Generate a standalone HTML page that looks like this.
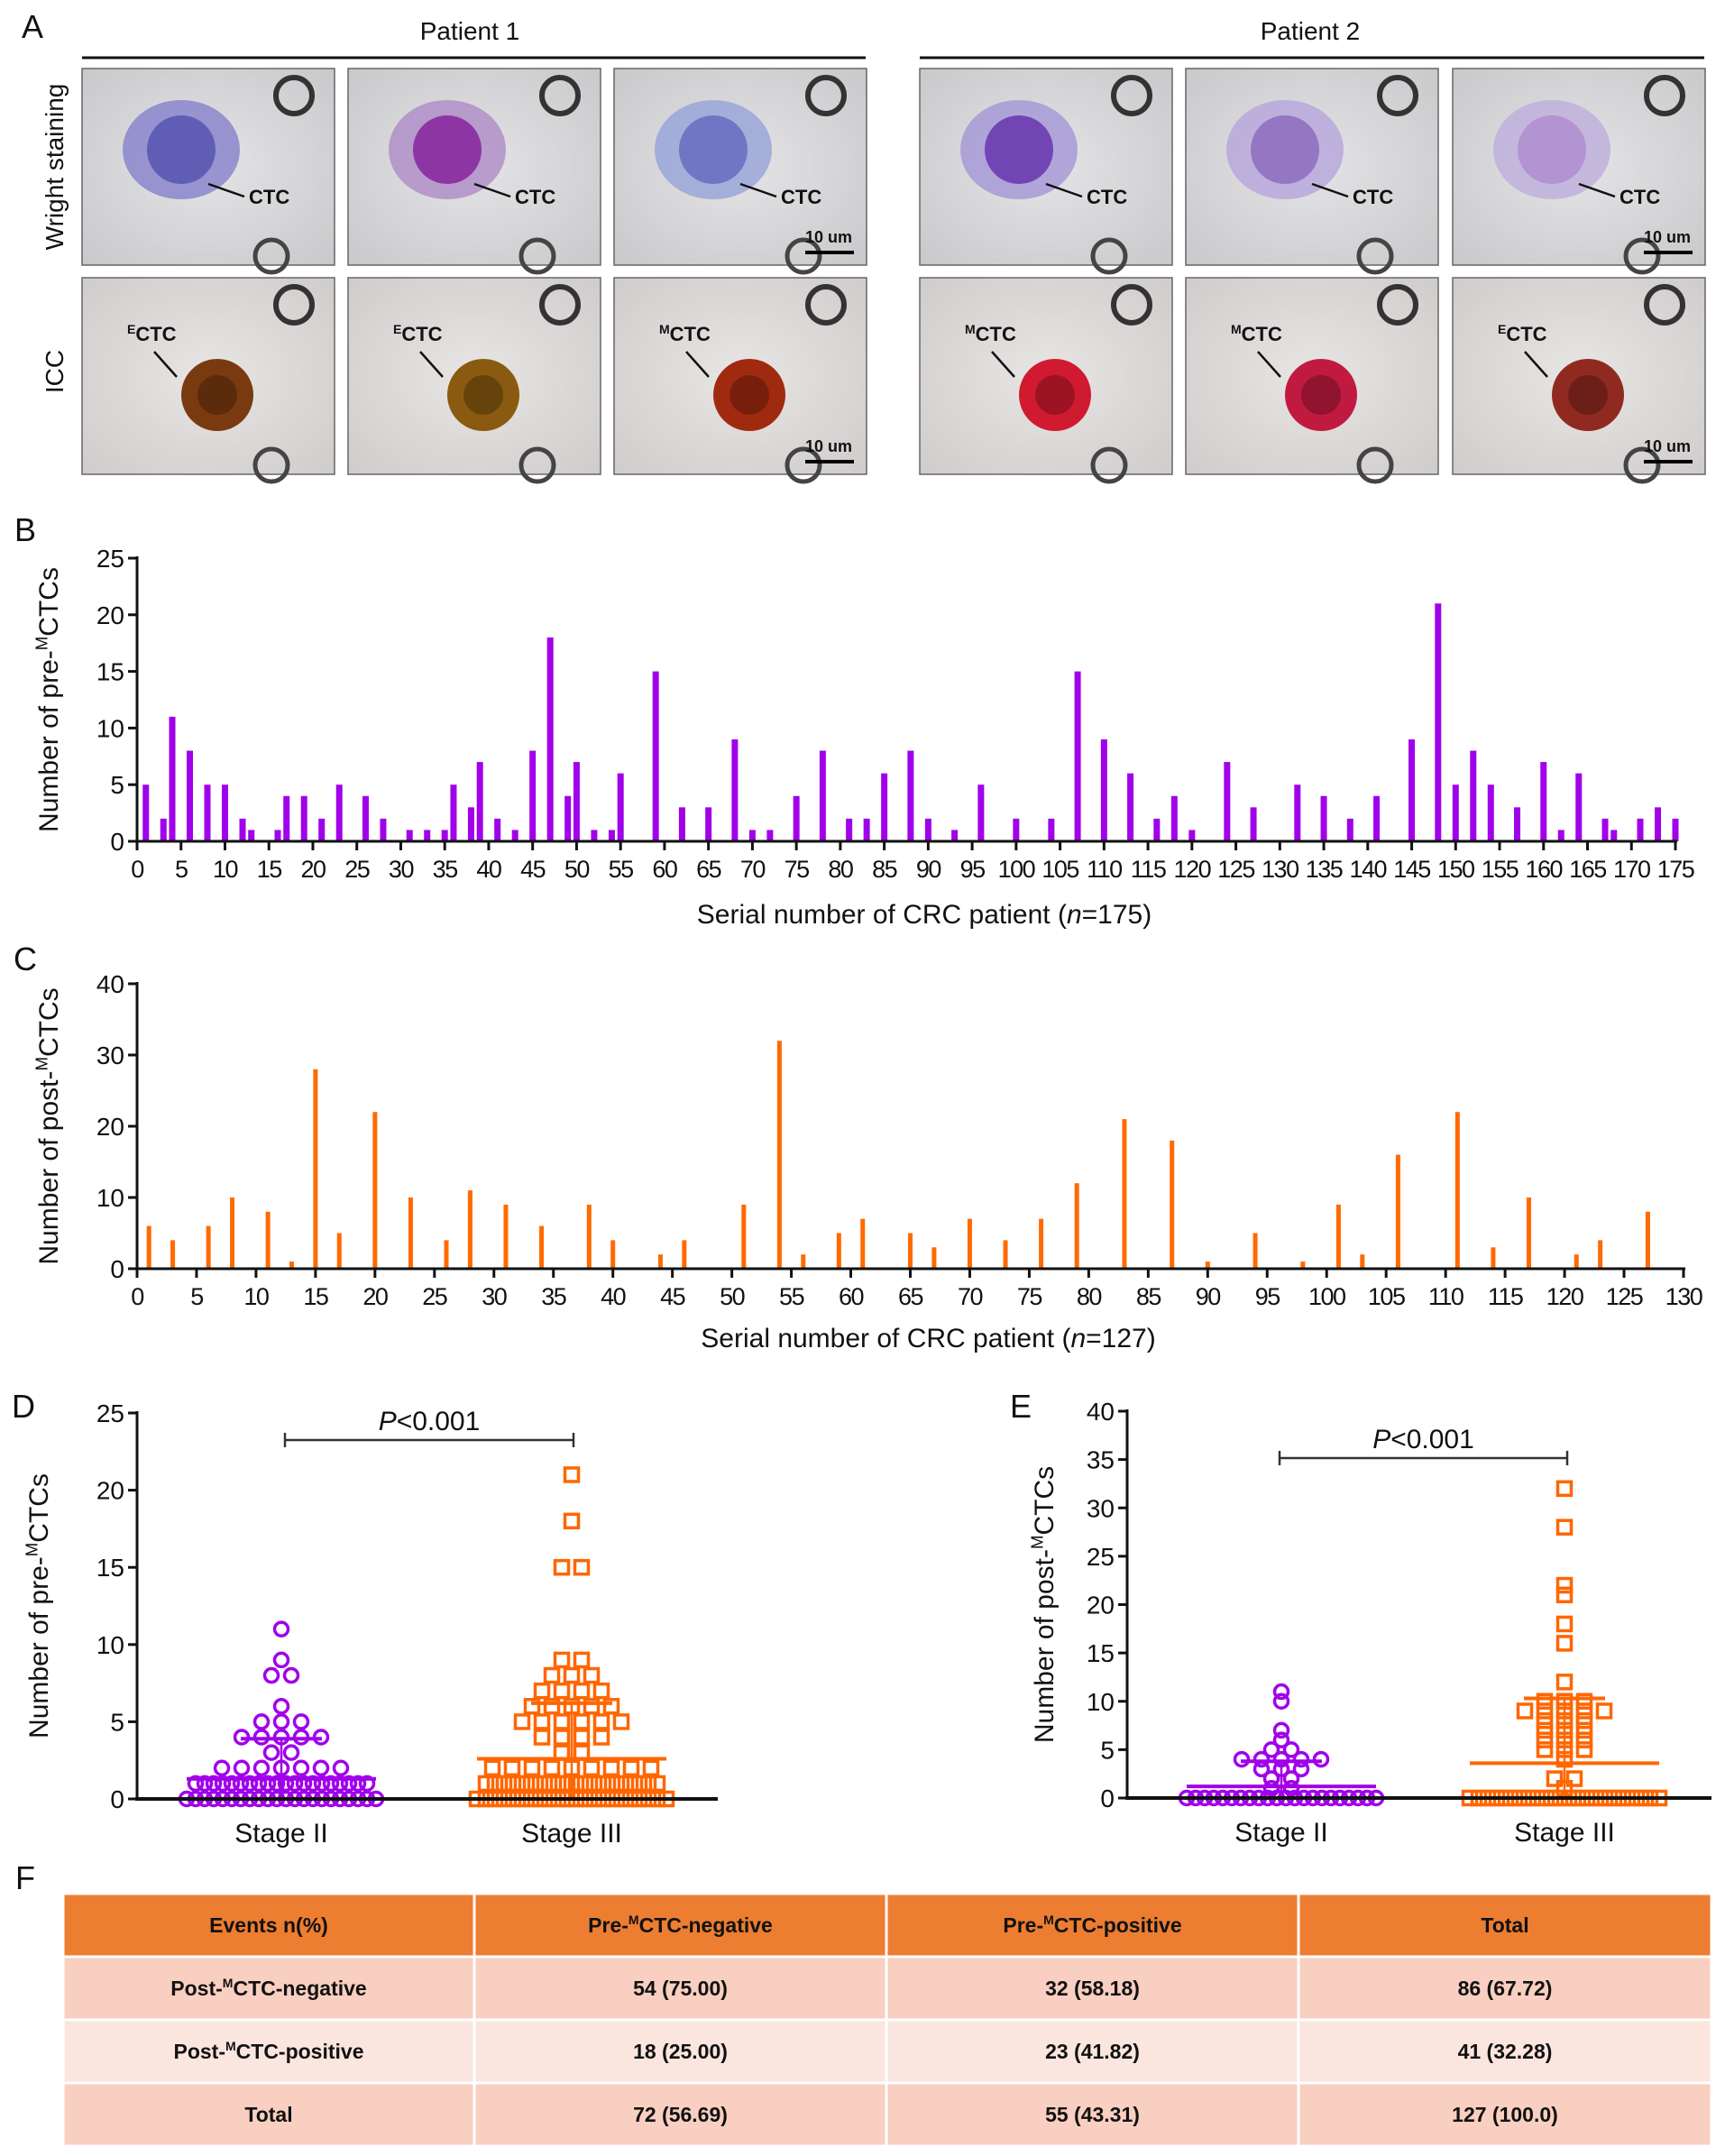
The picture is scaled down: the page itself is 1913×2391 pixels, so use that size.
<!DOCTYPE html>
<html><head><meta charset="utf-8"><style>
body{margin:0;background:#fff;}
svg{display:block;font-family:"Liberation Sans",Arial,sans-serif;}
</style></head><body>
<svg id="fig" width="1913" height="2391" viewBox="0 0 1913 2391" xmlns="http://www.w3.org/2000/svg">
<defs>
<radialGradient id="bgw" cx="50%" cy="50%" r="70%"><stop offset="0" stop-color="#e4e4e6"/><stop offset="1" stop-color="#c9c9cc"/></radialGradient>
<radialGradient id="bgi" cx="50%" cy="50%" r="70%"><stop offset="0" stop-color="#e8e6e4"/><stop offset="1" stop-color="#cfcccb"/></radialGradient>
</defs>
<g id="panelA"></g>
<g id="panelB"></g>
<g id="panelC"></g>
<g id="panelD"></g>
<g id="panelE"></g>
<g id="panelF"></g>
</svg>
<script>
// ---- Panel B data ----
const bPatients=[1,3,4,6,8,10,12,13,16,17,19,21,23,26,28,31,33,35,36,38,39,41,43,45,47,49,50,52,54,55,59,62,65,68,70,72,75,78,81,83,85,88,90,93,96,100,104,107,110,113,116,118,120,124,127,132,135,138,141,145,148,150,152,154,157,160,162,164,167,168,171,173,175];
const bValues=[5,2,11,8,5,5,2,1,1,4,4,2,5,4,2,1,1,1,5,3,7,2,1,8,18,4,7,1,1,6,15,3,3,9,1,1,4,8,2,2,6,8,2,1,5,2,2,15,9,6,2,4,1,7,3,5,4,2,4,9,21,5,8,5,3,7,1,6,2,1,2,3,2];
const bYTicks=[0,5,10,15,20,25];
const bXTicks=[0,5,10,15,20,25,30,35,40,45,50,55,60,65,70,75,80,85,90,95,100,105,110,115,120,125,130,135,140,145,150,155,160,165,170,175];
// ---- Panel C data ----
const cPatients=[1,3,6,8,11,13,15,17,20,23,26,28,31,34,38,40,44,46,51,54,56,59,61,65,67,70,73,76,79,83,87,90,94,98,101,103,106,111,114,117,121,123,127];
const cValues=[6,4,6,10,8,1,28,5,22,10,4,11,9,6,9,4,2,4,9,32,2,5,7,5,3,7,4,7,12,21,18,1,5,1,9,2,16,22,3,10,2,4,8];
const cYTicks=[0,10,20,30,40];
const cXTicks=[0,5,10,15,20,25,30,35,40,45,50,55,60,65,70,75,80,85,90,95,100,105,110,115,120,125,130];
// ---- Panel D data (value, count) ----
const dStage2Vals=[11,9,8,6,5,4,3,2,1,0];
const dStage2Counts=[1,1,2,1,3,5,2,7,20,22];
const dStage3Vals=[21,18,15,9,8,7,6,5,4,3,2,1,0];
const dStage3Counts=[1,1,2,2,3,4,5,6,4,2,9,20,22];
const dMeans=[1.3,2.6];const dSDs=[3.9,6.2];
const dYTicks=[0,5,10,15,20,25];
// ---- Panel E data ----
const eStage2Vals=[11,10,7,6,5,4,3,2,1,0];
const eStage2Counts=[1,1,1,1,2,5,3,2,2,22];
const eStage3Vals=[32,28,22,21,18,16,12,10,9,8,7,6,5,4,2,1,0];
const eStage3Counts=[1,1,1,1,1,1,1,3,5,3,3,3,3,1,2,1,22];
const eMeans=[1.2,3.6];const eSDs=[3.8,10.3];
const eYTicks=[0,5,10,15,20,25,30,35,40];
// ---- Panel F data ----
const fHeader=["Events n(%)","Pre-MCTC-negative","Pre-MCTC-positive","Total"];
const fRowLabels=["Post-MCTC-negative","Post-MCTC-positive","Total"];
const fCol1=["54 (75.00)","18 (25.00)","72 (56.69)"];
const fCol2=["32 (58.18)","23 (41.82)","55 (43.31)"];
const fCol3=["86 (67.72)","41 (32.28)","127 (100.0)"];

const NS="http://www.w3.org/2000/svg";
function mk(parent,tag,attrs,text){const e=document.createElementNS(NS,tag);for(const k in attrs)e.setAttribute(k,attrs[k]);if(text!==undefined)e.textContent=text;parent.appendChild(e);return e;}
function txt(parent,x,y,s,size,anchor,extra){const t=mk(parent,'text',Object.assign({x:x,y:y,'font-size':size,'text-anchor':anchor||'middle',fill:'#111'},extra||{}),s);return t;}
function sup(parent,x,y,pre,post,size,anchor,extra){const t=mk(parent,'text',Object.assign({x:x,y:y,'font-size':size,'text-anchor':anchor||'middle',fill:'#111'},extra||{}));t.appendChild(document.createTextNode(pre));mk(t,'tspan',{'font-size':size*0.62,dy:-size*0.38},'M');mk(t,'tspan',{dy:size*0.38},post);return t;}

// ---------- Panel A ----------
const A=document.getElementById('panelA');
let t=txt(A,36,42,'A',36,'middle');

t=txt(A,521,44,'Patient 1',28);
t=txt(A,1453,44,'Patient 2',28);
mk(A,'line',{x1:91,x2:960,y1:64,y2:64,stroke:'#111','stroke-width':3});
mk(A,'line',{x1:1020,x2:1890,y1:64,y2:64,stroke:'#111','stroke-width':3});
t=txt(A,70,185,'Wright staining',28,'middle',{transform:'rotate(-90 70 185)'});
t=txt(A,70,412,'ICC',28,'middle',{transform:'rotate(-90 70 412)'});
const colX=[91,386,681,1020,1315,1611];const rowY=[76,308];const pw=280,ph=218;
const wCell=[['#8a86cc','#5a58b0'],['#b08fc8','#8a2aa0'],['#9aa6d8','#6a70c0'],['#a79ad6','#6a3cb0'],['#b8a8dc','#9070c0'],['#c0b0dc','#b090d0']];
const iCell=['#7a3a10','#8a5a10','#a02a10','#d01a30','#c01a40','#902a20'];
const wLabels=['CTC','CTC','CTC','CTC','CTC','CTC'];
const iLabels=['ECTC','ECTC','MCTC','MCTC','MCTC','ECTC'];
for(let r=0;r<2;r++)for(let c=0;c<6;c++){
  const g=mk(A,'g',{});
  
  
  const x=colX[c],y=rowY[r];
  mk(g,'rect',{x:x,y:y,width:pw,height:ph,fill:r==0?'url(#bgw)':'url(#bgi)',stroke:'#666','stroke-width':1.5});
  mk(g,'circle',{cx:x+pw-45,cy:y+30,r:20,fill:'none',stroke:'#333','stroke-width':6});
  mk(g,'circle',{cx:x+pw-70,cy:y+ph-10,r:18,fill:'none',stroke:'#444','stroke-width':5});
  if(r==0){
    mk(g,'ellipse',{cx:x+110,cy:y+90,rx:65,ry:55,fill:wCell[c][0],opacity:0.85});
    mk(g,'ellipse',{cx:x+110,cy:y+90,rx:38,ry:38,fill:wCell[c][1],opacity:0.9});
  }else{
    mk(g,'circle',{cx:x+150,cy:y+130,r:40,fill:iCell[c]});
    mk(g,'circle',{cx:x+150,cy:y+130,r:22,fill:'#000',opacity:0.25});
  }
  const lx=r==0?x+185:x+50,ly=r==0?y+150:y+70;
  const lt=mk(g,'text',{x:lx,y:ly,'font-size':22,'font-weight':'bold',fill:'#111'});
  if(r==1){mk(lt,'tspan',{'font-size':14,dy:-8},iLabels[c][0]);mk(lt,'tspan',{dy:8},'CTC');}
  else lt.textContent=wLabels[c];
  if(r==0) mk(g,'line',{x1:lx-5,y1:ly-8,x2:lx-45,y2:ly-22,stroke:'#111','stroke-width':2.5});
  else mk(g,'line',{x1:lx+30,y1:ly+12,x2:lx+55,y2:ly+40,stroke:'#111','stroke-width':2.5});
  if(c==2||c==5){
    txt(g,x+pw-42,y+193,'10 um',18,'middle',{'font-weight':'bold'});
    mk(g,'line',{x1:x+pw-68,x2:x+pw-14,y1:y+ph-14,y2:y+ph-14,stroke:'#000','stroke-width':4});
  }
}

// ---------- Bar chart helper ----------
function barChart(G,letter,letterY,x0,x1,y0,y1,xmax,ymax,xT,yT,pats,vals,color,bw,ytitle,xlabY,xlabel){
  const sx=v=>x0+(x1-x0)*v/xmax, sy=v=>y0-(y0-y1)*v/ymax;
  let l=txt(G,28,letterY,letter,36);
  for(let i=0;i<pats.length;i++){
    const b=mk(G,'rect',{x:sx(pats[i])-bw/2,y:sy(vals[i]),width:bw,height:y0-sy(vals[i]),fill:color});
    
    
  }
  mk(G,'line',{x1:x0,x2:x0,y1:y1-2,y2:y0+2,stroke:'#111','stroke-width':3});
  mk(G,'line',{x1:x0-2,x2:x1+2,y1:y0,y2:y0,stroke:'#111','stroke-width':3});
  yT.forEach(v=>{mk(G,'line',{x1:x0-10,x2:x0,y1:sy(v),y2:sy(v),stroke:'#111','stroke-width':3});
    const tt=txt(G,x0-14,sy(v)+10,String(v),28,'end');});
  xT.forEach(v=>{mk(G,'line',{x1:sx(v),x2:sx(v),y1:y0,y2:y0+10,stroke:'#111','stroke-width':3});
    const tt=txt(G,sx(v),y0+40,String(v),27,'middle',{'letter-spacing':'-1.5'});});
  const cy=(y0+y1)/2;
  const yt=sup(G,64,cy,ytitle[0],ytitle[1],30,'middle',{transform:'rotate(-90 64 '+cy+')'});
  
  const xl=mk(G,'text',{x:(x0+x1)/2+20,y:xlabY,'font-size':30,'text-anchor':'middle',fill:'#111'});
  xl.appendChild(document.createTextNode('Serial number of CRC patient ('));
  mk(xl,'tspan',{'font-style':'italic'},'n');
  xl.appendChild(document.createTextNode(xlabel));
  
}
barChart(document.getElementById('panelB'),'B',600,152,1858,933,619,175,25,bXTicks,bYTicks,bPatients,bValues,'#a000ea',7,['Number of pre-','CTCs'],1024,'=175)');
barChart(document.getElementById('panelC'),'C',1076,152,1867,1407,1091,130,40,cXTicks,cYTicks,cPatients,cValues,'#ff6a00',5,['Number of post-','CTCs'],1494,'=127)');

// ---------- Scatter helper ----------
function scatter(G,letter,lx,ly,x0,x1,y0,y1,ymax,yT,centers,groups,means,sds,tx,sigY,brX1,brX2,pY){
  const sy=v=>y0-(y0-y1)*v/ymax;
  let l=txt(G,lx,ly,letter,36);
  const colors=['#a000ea','#ff6600'];
  groups.forEach((gr,gi)=>{
    const [vals,counts]=gr;const cx=centers[gi];
    vals.forEach((v,k)=>{
      const n=counts[k];const sp=n>10?10:22;
      for(let j=0;j<n;j++){
        const px=cx+(j-(n-1)/2)*sp;const py=sy(v);
        let m;
        if(gi==0) m=mk(G,'circle',{cx:px,cy:py,r:7.5,fill:'none',stroke:colors[0],'stroke-width':3.5});
        else m=mk(G,'rect',{x:px-7.5,y:py-7.5,width:15,height:15,fill:'none',stroke:colors[1],'stroke-width':3.5});
        
        
      }
    });
    mk(G,'line',{x1:cx-105,x2:cx+105,y1:sy(means[gi]),y2:sy(means[gi]),stroke:colors[gi],'stroke-width':4});
    mk(G,'line',{x1:cx-45,x2:cx+45,y1:sy(sds[gi]),y2:sy(sds[gi]),stroke:colors[gi],'stroke-width':4});
    mk(G,'line',{x1:cx,x2:cx,y1:sy(0),y2:sy(sds[gi]),stroke:colors[gi],'stroke-width':2.5});
    const st=txt(G,cx,y0+48,gi==0?'Stage II':'Stage III',30);
    
  });
  mk(G,'line',{x1:x0,x2:x0,y1:y1-2,y2:y0+2,stroke:'#111','stroke-width':3});
  mk(G,'line',{x1:x0-2,x2:x1,y1:y0,y2:y0,stroke:'#111','stroke-width':4});
  yT.forEach(v=>{mk(G,'line',{x1:x0-10,x2:x0,y1:sy(v),y2:sy(v),stroke:'#111','stroke-width':3});
    const tt=txt(G,x0-14,sy(v)+10,String(v),28,'end');});
  const cy=(y0+y1)/2;
  const yt=sup(G,tx,cy,'Number of '+(letter=='D'?'pre-':'post-'),'CTCs',30,'middle',{transform:'rotate(-90 '+tx+' '+cy+')'});
  
  mk(G,'line',{x1:brX1,x2:brX2,y1:sigY,y2:sigY,stroke:'#333','stroke-width':2.5});
  mk(G,'line',{x1:brX1,x2:brX1,y1:sigY-8,y2:sigY+8,stroke:'#333','stroke-width':2.5});
  mk(G,'line',{x1:brX2,x2:brX2,y1:sigY-8,y2:sigY+8,stroke:'#333','stroke-width':2.5});
  const p=mk(G,'text',{x:(brX1+brX2)/2,y:pY,'font-size':30,'text-anchor':'middle',fill:'#111'});
  mk(p,'tspan',{'font-style':'italic'},'P');p.appendChild(document.createTextNode('<0.001'));
  
}
scatter(document.getElementById('panelD'),'D',26,1572,152,796,1995,1567,25,dYTicks,[312,634],[[dStage2Vals,dStage2Counts],[dStage3Vals,dStage3Counts]],dMeans,dSDs,53,1597,316,636,1586);
scatter(document.getElementById('panelE'),'E',1132,1572,1250,1898,1994,1565,40,eYTicks,[1421,1735],[[eStage2Vals,eStage2Counts],[eStage3Vals,eStage3Counts]],eMeans,eSDs,1168,1617,1419,1738,1606);

// ---------- Panel F ----------
const F=document.getElementById('panelF');
let lf=txt(F,28,2095,'F',36);
const colB=[70,526,983,1440,1898];const rowB=[2100,2170,2240,2310,2380];
const fills=['#ed7d31','#f8cfc0','#fbe6df','#f8cfc0'];
for(let r=0;r<4;r++){
  const row=mk(F,'g',{});
  
  
  for(let c=0;c<4;c++){
    mk(row,'rect',{x:colB[c],y:rowB[r],width:colB[c+1]-colB[c],height:rowB[r+1]-rowB[r],fill:fills[r],stroke:'#fff','stroke-width':3});
    const cx=(colB[c]+colB[c+1])/2,cy=(rowB[r]+rowB[r+1])/2+8;
    let s;
    if(r==0) s=fHeader[c];
    else if(c==0) s=fRowLabels[r-1];
    else s=[fCol1,fCol2,fCol3][c-1][r-1];
    if(s.indexOf('MCTC')>=0){
      const i=s.indexOf('MCTC');
      const tt=mk(row,'text',{x:cx,y:cy,'font-size':23,'font-weight':'bold','text-anchor':'middle',fill:'#111'});
      tt.appendChild(document.createTextNode(s.slice(0,i)));
      mk(tt,'tspan',{'font-size':14,dy:-9},'M');
      mk(tt,'tspan',{dy:9},s.slice(i+1));
    } else txt(row,cx,cy,s,23,'middle',{'font-weight':'bold'});
  }
}
</script>
</body></html>
